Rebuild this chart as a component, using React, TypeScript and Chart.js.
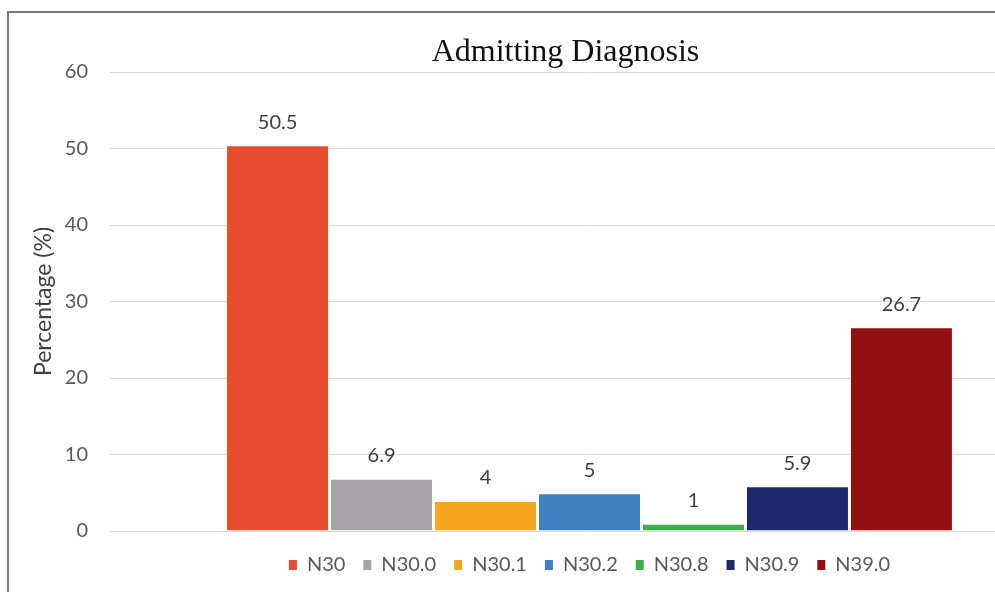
import React, { useEffect, useRef } from "react";
import { Chart, registerables } from "chart.js";

Chart.register(...registerables);

const categories = [""];
const seriesNames = ["N30", "N30.0", "N30.1", "N30.2", "N30.8", "N30.9", "N39.0"];
const seriesValues = [50.5, 6.9, 4, 5, 1, 5.9, 26.7];
const seriesColors = ["#E84B2E", "#A6A4A9", "#F7A51E", "#3E80C2", "#41AC4A", "#1C2A6C", "#920F12"];
const yTicks = { min: 0, max: 60, step: 10 };
const titleText = "Admitting Diagnosis";
const yTitle = "Percentage (%)";

const valueLabels = {
  id: "valueLabels",
  afterDatasetsDraw(chart: any) {
    const ctx = chart.ctx;
    ctx.save();
    ctx.font = "20px Lato";
    ctx.fillStyle = "#404040";
    ctx.textAlign = "center";
    ctx.textBaseline = "alphabetic";
    chart.data.datasets.forEach((ds: any, i: number) => {
      const meta = chart.getDatasetMeta(i);
      meta.data.forEach((el: any, j: number) => {
        const v = ds.data[j];
        ctx.fillText(String(v), el.x, el.y - 16);
      });
    });
    ctx.restore();
  },
};

export default function App() {
  const ref = useRef<HTMLCanvasElement | null>(null);
  useEffect(() => {
    if (!ref.current) return;
    Chart.defaults.font.family = "Lato";
    const chart = new Chart(ref.current, {
      type: "bar",
      data: {
        labels: categories,
        datasets: seriesNames.map((name, i) => ({
          label: name,
          data: [seriesValues[i]],
          backgroundColor: seriesColors[i],
          borderColor: "#ffffff",
          borderWidth: 1.5,
          categoryPercentage: 0.759,
          barPercentage: 1,
        })),
      },
      options: {
        responsive: false,
        animation: false,
        events: [],
        layout: { padding: { left: 0, right: 0, top: 0, bottom: 7 } },
        scales: {
          x: {
            display: true,
            grid: { display: false },
            border: { display: false },
            ticks: { display: false },
            afterFit: (s: any) => {
              s.height = 6;
            },
          },
          y: {
            min: yTicks.min,
            max: yTicks.max,
            ticks: {
              stepSize: yTicks.step,
              color: "#595959",
              font: { size: 20, family: "Lato" },
              padding: 22,
            },
            grid: { color: "#d9d9d9", lineWidth: 1, drawTicks: false },
            border: { display: false },
            title: {
              display: true,
              text: yTitle,
              color: "#404040",
              font: { size: 23, family: "Lato" },
              padding: { top: 21, bottom: 0 },
            },
            afterFit: (s: any) => {
              s.width = 101;
            },
          },
          y2: {
            type: "linear",
            position: "right",
            display: true,
            grid: { display: false },
            border: { display: false },
            ticks: { display: false },
            afterFit: (s: any) => {
              s.width = 53;
            },
          },
        },
        plugins: {
          title: {
            display: true,
            text: titleText,
            color: "#111111",
            font: { size: 32, family: "'Liberation Serif', 'Times New Roman', serif", weight: "normal" },
            padding: { top: 20, bottom: 0.6 },
          },
          legend: {
            position: "bottom",
            fullSize: false,
            labels: {
              color: "#595959",
              font: { size: 20, family: "Lato" },
              boxWidth: 8,
              boxHeight: 10,
              padding: 18,
              generateLabels: (c: any) =>
                Chart.defaults.plugins.legend.labels
                  .generateLabels(c)
                  .map((l: any) => ({ ...l, lineWidth: 0, strokeStyle: "rgba(0,0,0,0)" })),
            },
          },
          tooltip: { enabled: false },
        },
      } as any,
      plugins: [valueLabels],
    });
    return () => chart.destroy();
  }, []);

  return (
    <div
      style={{
        position: "fixed",
        left: 0,
        top: 0,
        width: 995,
        height: 592,
        overflow: "hidden",
        background: "#ffffff",
      }}
    >
      <div
        style={{
          position: "absolute",
          left: 7,
          top: 11,
          width: 1300,
          height: 700,
          borderLeft: "2px solid #7a7a7a",
          borderTop: "2px solid #7a7a7a",
        }}
      >
        <canvas ref={ref} width={1113} height={579} style={{ display: "block", width: 1113, height: 579 }} />
      </div>
    </div>
  );
}
